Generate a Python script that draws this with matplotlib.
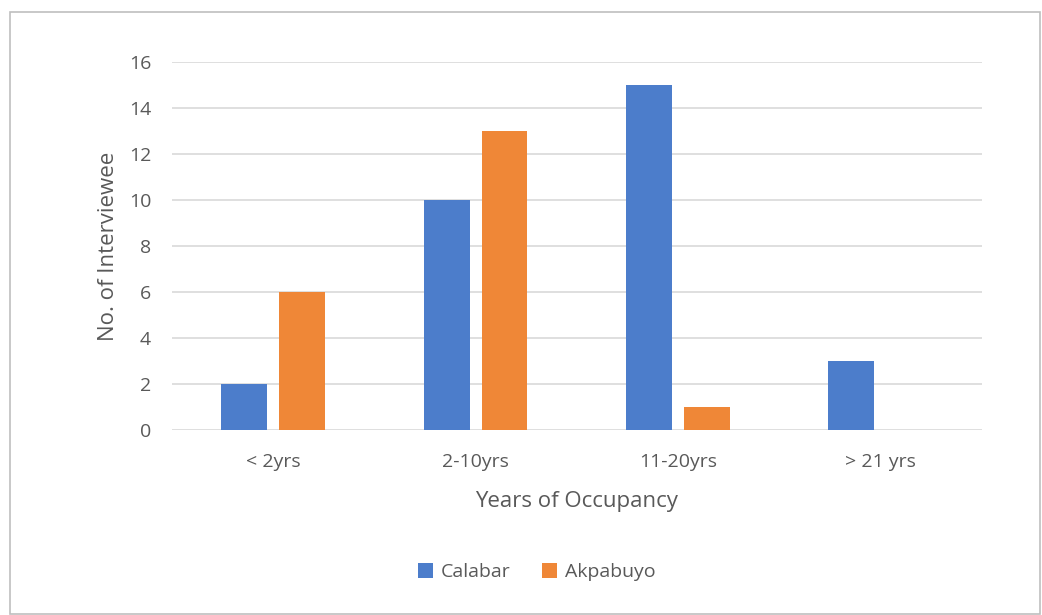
import numpy as np
import matplotlib
matplotlib.use("Agg")
import matplotlib.pyplot as plt
from matplotlib.patches import Rectangle

categories = ["< 2yrs", "2-10yrs", "11-20yrs", "> 21 yrs"]
calabar = [2, 10, 15, 3]
akpabuyo = [6, 13, 1, 0]

BLUE = "#4c7dcb"
ORANGE = "#ef8737"
TEXT = "#595959"

plt.rcParams["font.family"] = ["Open Sans", "DejaVu Sans"]

fig = plt.figure(figsize=(10.42, 6.15), dpi=100)
ax = fig.add_axes([0.165, 0.301, 0.777, 0.598])

x = np.arange(len(categories))
width = 0.227
offset = 0.143
ax.bar(x - offset, calabar, width, color=BLUE, label="Calabar", zorder=3)
ax.bar(x + offset, akpabuyo, width, color=ORANGE, label="Akpabuyo", zorder=3)

ax.set_xlim(-0.5, len(categories) - 0.5)
ax.set_ylim(0, 16)
ax.set_yticks(range(0, 17, 2))
ax.set_xticks(x)
ax.set_xticklabels(categories)
ax.tick_params(axis="both", length=0, labelsize=14, colors=TEXT)
ax.tick_params(axis="y", pad=15)
ax.tick_params(axis="x", pad=17)
ax.grid(axis="y", color="#d9d9d9", linewidth=1.2, zorder=0)
for side in ["top", "right", "left", "bottom"]:
    ax.spines[side].set_visible(False)

ax.set_xlabel("Years of Occupancy", fontsize=16, color=TEXT, labelpad=14)
ax.set_ylabel("No. of Interviewee", fontsize=16, color=TEXT, labelpad=7)

fig.legend(loc="center", bbox_to_anchor=(0.515, 0.07), ncol=2, frameon=False,
           fontsize=14, labelcolor=TEXT, handlelength=0.8, handleheight=0.8,
           handletextpad=0.4, columnspacing=1.6)

fig.patches.append(Rectangle((10 / 1042, 0.002), 1030 / 1042, 1 - 12 / 615 - 0.002,
                             transform=fig.transFigure, fill=False,
                             edgecolor="#bfbfbf", linewidth=1.2))

fig.savefig("out.png", dpi=100)
